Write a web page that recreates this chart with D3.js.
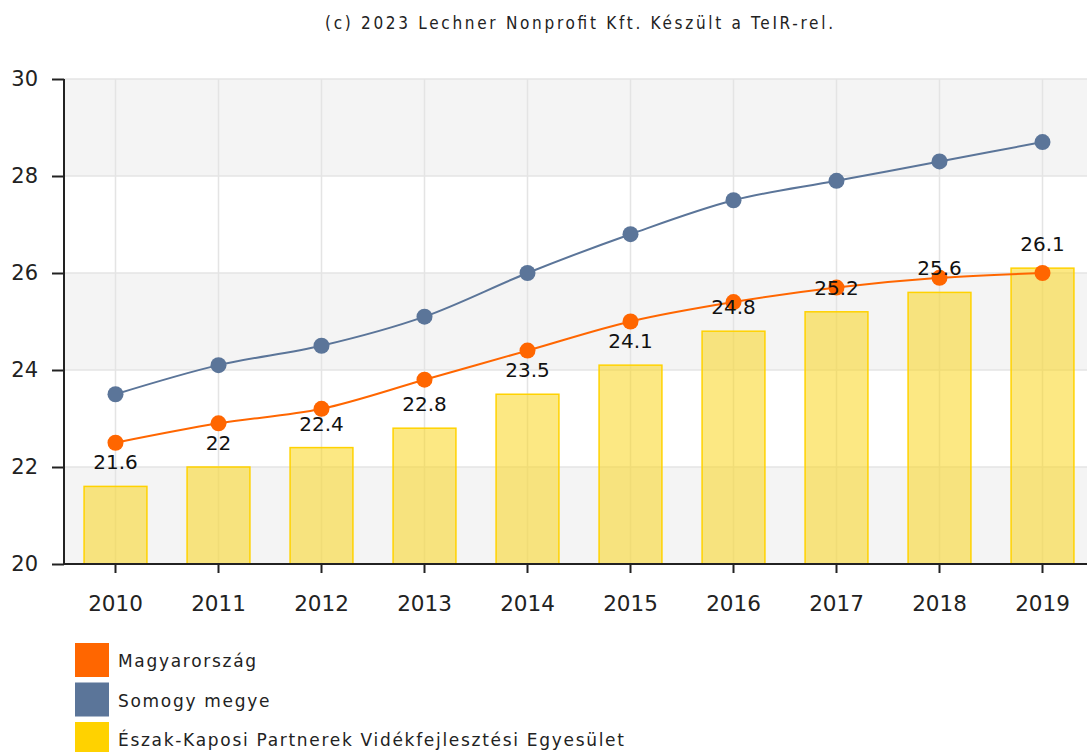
<!DOCTYPE html>
<html><head><meta charset="utf-8">
<script src="https://cdn.jsdelivr.net/npm/d3@7"></script>
<style>body{margin:0;background:#fff;} svg{display:block;}</style>
</head><body>
<svg id="c" width="1087" height="752"></svg>
<script>
const years = ["2010","2011","2012","2013","2014","2015","2016","2017","2018","2019"];
const barValues = [21.6, 22.0, 22.4, 22.8, 23.5, 24.1, 24.8, 25.2, 25.6, 26.1];
const barLabels = ["21.6","22","22.4","22.8","23.5","24.1","24.8","25.2","25.6","26.1"];
const hungary = [22.5, 22.9, 23.2, 23.8, 24.4, 25.0, 25.4, 25.7, 25.9, 26.0];
const somogy = [23.5, 24.1, 24.5, 25.1, 26.0, 26.8, 27.5, 27.9, 28.3, 28.7];
const yTicks = [20, 22, 24, 26, 28, 30];
const legendNames = ["Magyarország", "Somogy megye", "Észak-Kaposi Partnerek Vidékfejlesztési Egyesület"];
const legendColors = ["#ff6600", "#5b7599", "#ffd200"];
const title = "(c) 2023 Lechner Nonprofit Kft. Készült a TeIR-rel.";

(function(){
const svg = d3.select("#c");
const pLeft = 64, pRight = 1094, pTop = 79, pBottom = 564, clipRight = 1087;
const x = d3.scaleBand().domain(years).range([pLeft, pRight]).paddingInner(0.39).paddingOuter(0.195);
const xc = d => x(d) + x.bandwidth() / 2;
const y = d3.scaleLinear().domain([20, 30]).range([pBottom, pTop]);

svg.append("text").attr("x", 579).attr("y", 29).attr("text-anchor", "middle")
  .attr("font-family", "DejaVu Sans Condensed, DejaVu Sans, sans-serif").attr("font-size", 17).attr("fill", "#222")
  .attr("textLength", 508).attr("lengthAdjust", "spacing").text(title);

// background bands
const bands = [[28,30],[24,26],[20,22]];
svg.selectAll("rect.band").data(bands).enter().append("rect")
  .attr("x", pLeft).attr("width", clipRight - pLeft)
  .attr("y", d => y(d[1])).attr("height", d => y(d[0]) - y(d[1]))
  .attr("fill", "#f4f4f4");

// grid
svg.selectAll("line.hg").data(yTicks).enter().append("line")
  .attr("x1", pLeft).attr("x2", clipRight).attr("y1", d => y(d)).attr("y2", d => y(d))
  .attr("stroke", "#e4e4e4").attr("stroke-width", 1.5);
svg.selectAll("line.vg").data(years).enter().append("line")
  .attr("x1", xc).attr("x2", xc).attr("y1", pTop).attr("y2", pBottom)
  .attr("stroke", "#e4e4e4").attr("stroke-width", 1.5);

// bars
svg.selectAll("rect.bar").data(years).enter().append("rect")
  .attr("x", d => x(d)).attr("width", x.bandwidth())
  .attr("y", (d, i) => y(barValues[i])).attr("height", (d, i) => y(20) - y(barValues[i]))
  .attr("fill", "rgba(250,214,30,0.55)").attr("stroke", "#ffd200").attr("stroke-width", 1.5);

// lines
const line = d3.line().x(d => xc(d.k)).y(d => y(d.v)).curve(d3.curveMonotoneX);
function series(vals, color) {
  const data = years.map((k, i) => ({k, v: vals[i]}));
  svg.append("path").datum(data).attr("d", line).attr("fill", "none").attr("stroke", color).attr("stroke-width", 2);
  svg.selectAll(null).data(data).enter().append("circle")
    .attr("cx", d => xc(d.k)).attr("cy", d => y(d.v)).attr("r", 8).attr("fill", color);
}
series(somogy, "#5b7599");
series(hungary, "#ff6600");

// bar labels
svg.selectAll("text.bl").data(years).enter().append("text")
  .attr("x", xc).attr("y", (d, i) => y(barValues[i]) - 17)
  .attr("text-anchor", "middle").attr("font-family", "DejaVu Sans, sans-serif").attr("font-size", 20)
  .attr("fill", "#111").text((d, i) => barLabels[i]);

// axes
const yAxis = d3.axisLeft(y).tickValues(yTicks).tickSize(12).tickPadding(14);
const gy = svg.append("g").attr("transform", `translate(${pLeft},0)`).call(yAxis);
gy.select(".domain").attr("d", `M0,${pTop}V${pBottom}`).attr("stroke", "#222").attr("stroke-width", 2);
gy.selectAll(".tick line").attr("stroke", "#222").attr("stroke-width", 2);
gy.selectAll("text").attr("font-family", "DejaVu Sans, sans-serif").attr("font-size", 21).attr("fill", "#222");

const xAxis = d3.axisBottom(x).tickSize(9).tickPadding(23);
const gx = svg.append("g").attr("transform", `translate(0,${pBottom})`).call(xAxis);
gx.select(".domain").attr("d", `M${pLeft},0H${clipRight}`).attr("stroke", "#222").attr("stroke-width", 2);
gx.selectAll(".tick line").attr("stroke", "#222").attr("stroke-width", 2);
gx.selectAll("text").attr("font-family", "DejaVu Sans, sans-serif").attr("font-size", 21.5).attr("fill", "#222");

// legend
const lg = svg.selectAll("g.lg").data(legendNames).enter().append("g")
  .attr("transform", (d, i) => `translate(75,${643 + i * 39.5})`);
lg.append("rect").attr("width", 34).attr("height", 34).attr("fill", (d, i) => legendColors[i]);
lg.append("text").attr("x", 43).attr("y", 24).attr("font-family", "DejaVu Sans, sans-serif").attr("font-size", 17)
  .style("letter-spacing", "1.7px").attr("fill", "#222").text(d => d);
})();
</script>
</body></html>
